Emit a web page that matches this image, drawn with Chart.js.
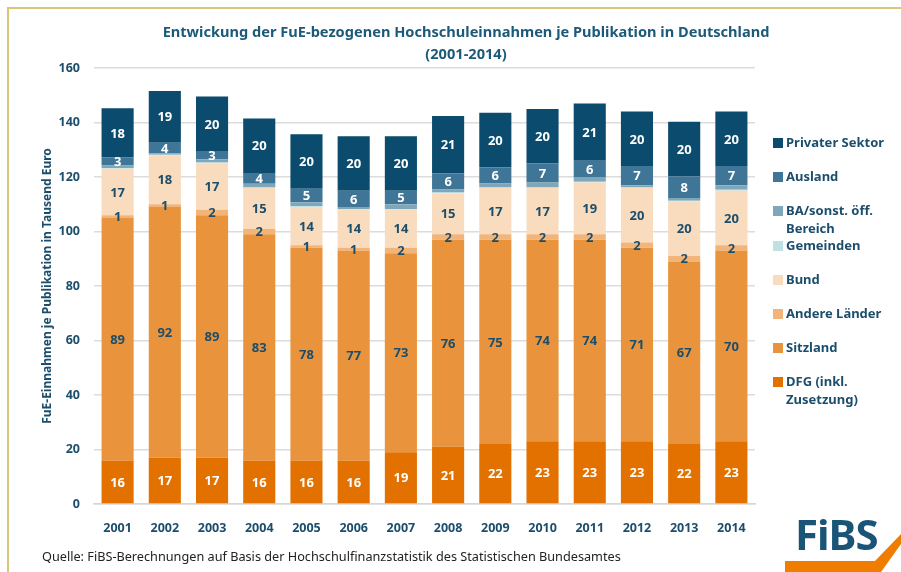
<!DOCTYPE html>
<html lang="de">
<head>
<meta charset="utf-8">
<script src="https://cdn.jsdelivr.net/npm/chart.js@4.4.1/dist/chart.umd.min.js"></script>
<style>
  html, body { margin: 0; padding: 0; background: #fff; }
  #wrap { position: relative; width: 901px; height: 572px; overflow: hidden; font-family: "Noto Sans", "Open Sans", sans-serif; }
  #frameTop { position: absolute; left: 7px; top: 7px; width: 900px; height: 2px; background: #d9c676; }
  #frameLeft { position: absolute; left: 7px; top: 7px; width: 2px; height: 570px; background: #d9c676; }
  #chart { position: absolute; left: 0; top: 0; }
  .title { position: absolute; left: 60px; width: 812px; text-align: center; color: #1c5a79; font-weight: bold; font-size: 14.6px; white-space: nowrap; }
  #legend { position: absolute; left: 773px; top: 133px; }
  .lg { position: absolute; left: 0; white-space: nowrap; color: #1c4e6c; font-weight: bold; font-size: 13px; line-height: 18px; }
  .lg span.box { position: absolute; left: 0; top: 5px; width: 10px; height: 10px; }
  .lg span.txt { position: absolute; left: 13px; top: 0; }
  #source { position: absolute; left: 42px; top: 547px; font-size: 12.7px; color: #222; white-space: nowrap; }
  #logo { position: absolute; left: 785px; top: 512px; width: 116px; height: 60px; }
  #logo .fibs { position: absolute; left: 10px; top: -7px; font-size: 42px; font-weight: bold; color: #1a5578; letter-spacing: -1px; }
</style>
</head>
<body>
<div id="wrap">
  <div id="frameTop"></div>
  <div id="frameLeft"></div>
  <canvas id="chart" width="901" height="572"></canvas>
  <div class="title" style="top:21px">Entwickung der FuE-bezogenen Hochschuleinnahmen je Publikation in Deutschland</div>
  <div class="title" style="top:43px">(2001-2014)</div>
  <div id="legend"></div>
  <div id="source">Quelle: FiBS-Berechnungen auf Basis der Hochschulfinanzstatistik des Statistischen Bundesamtes</div>
  <div id="logo">
    <div class="fibs">FiBS</div>
    <svg width="116" height="60" style="position:absolute;left:0;top:0">
      <polygon points="0,49 90,49 116,22 116,32 96,60 0,60" fill="#f07d00"/>
    </svg>
  </div>
</div>
<script>
// Jahre
const years = ['2001', '2002', '2003', '2004', '2005', '2006', '2007', '2008', '2009', '2010', '2011', '2012', '2013', '2014'];

// Einnahmen je Publikation (Tsd. Euro), von unten nach oben gestapelt
const dfg = [16, 17, 17, 16, 16, 16, 19, 21, 22, 23, 23, 23, 22, 23];
const sitzland = [89, 92, 89, 83, 78, 77, 73, 76, 75, 74, 74, 71, 67, 70];
const andereLaender = [1, 1, 2, 2, 1, 1, 2, 2, 2, 2, 2, 2, 2, 2];
const bund = [17, 18, 17, 15, 14, 14, 14, 15, 17, 17, 19, 20, 20, 20];
const gemeinden = [0.3, 0.2, 0.3, 0.3, 0.3, 0.3, 0.3, 0.3, 0.3, 0.3, 0.3, 0.3, 0.3, 0.3];
const baSonst = [0.9, 0.4, 1.2, 1.2, 1.4, 0.7, 1.7, 1.1, 1.3, 1.7, 1.7, 0.7, 1.0, 1.7];
const ausland = [3, 4, 3, 4, 5, 6, 5, 6, 6, 7, 6, 7, 8, 7];
const privat = [18, 19, 20, 20, 20, 20, 20, 21, 20, 20, 21, 20, 20, 20];

const yTicks = [0, 20, 40, 60, 80, 100, 120, 140, 160];

// Reihen: Name, Daten, Farbe, Beschriftung (null = keine)
const series = [
    { label: ['DFG (inkl.', 'Zusetzung)'], data: dfg, color: '#e27100', text: '#ffffff' },
    { label: ['Sitzland'], data: sitzland, color: '#e9943c', text: '#1c4e6c' },
    { label: ['Andere Länder'], data: andereLaender, color: '#f3b47a', text: '#1c4e6c' },
    { label: ['Bund'], data: bund, color: '#f8dcbd', text: '#1c4e6c' },
    { label: ['Gemeinden'], data: gemeinden, color: '#bfe1e1', text: null },
    { label: ['BA/sonst. öff.', 'Bereich'], data: baSonst, color: '#7fa7ba', text: null },
    { label: ['Ausland'], data: ausland, color: '#3f7596', text: '#ffffff' },
    { label: ['Privater Sektor'], data: privat, color: '#0b4b6d', text: '#ffffff' }
];

// Werte in die Balken schreiben
const valueLabels = {
    id: 'valueLabels',
    afterDatasetsDraw(chart) {
        const ctx = chart.ctx;
        ctx.save();
        ctx.font = 'bold 13px "Noto Sans", sans-serif';
        ctx.textAlign = 'center';
        ctx.textBaseline = 'middle';
        series.forEach((s, i) => {
            if (!s.text) return;
            const meta = chart.getDatasetMeta(i);
            meta.data.forEach((bar, j) => {
                const y = (bar.y + bar.base) / 2;
                ctx.fillStyle = s.text;
                ctx.fillText(Math.round(s.data[j]), bar.x, y + 1);
            });
        });
        ctx.restore();
    }
};

new Chart(document.getElementById('chart'), {
    type: 'bar',
    data: {
        labels: years,
        datasets: series.map(s => ({
            label: s.label.join(' '),
            data: s.data,
            backgroundColor: s.color,
            borderWidth: 0,
            barPercentage: 0.68,
            categoryPercentage: 1.0
        }))
    },
    options: {
        responsive: false,
        animation: false,
        layout: { padding: { left: 40, right: 146, top: 68, bottom: 0 } },
        plugins: {
            legend: { display: false },
            tooltip: { enabled: false },
            title: { display: false }
        },
        scales: {
            x: {
                stacked: true,
                grid: { display: false },
                border: { display: true, color: '#d6d6d6', width: 1.5 },
                ticks: {
                    color: '#1c4e6c',
                    font: { family: '"Noto Sans", sans-serif', size: 12.5, weight: 'bold' },
                    padding: 9
                },
                afterFit(scale) { scale.height = 68; }
            },
            y: {
                stacked: true,
                min: 0,
                max: 160,
                afterBuildTicks(scale) { scale.ticks = yTicks.map(v => ({ value: v })); },
                grid: { color: '#dcdcdc', lineWidth: 1.5, drawTicks: false },
                border: { display: false },
                ticks: {
                    color: '#1c4e6c',
                    font: { family: '"Noto Sans", sans-serif', size: 12.5, weight: 'bold' },
                    padding: 14
                },
                title: {
                    display: true,
                    text: 'FuE-Einnahmen je Publikation in Tausend Euro',
                    color: '#1c4e6c',
                    font: { family: '"Noto Sans", sans-serif', size: 12, weight: 'bold' },
                    padding: 0
                },
                afterFit(scale) { scale.width = 54; }
            }
        }
    },
    plugins: [valueLabels]
});

// Legende rechts (oben = Privater Sektor)
const legendEl = document.getElementById('legend');
const legendTops = [0, 34, 68, 103, 137, 171, 205, 239];
series.slice().reverse().forEach((s, i) => {
    const item = document.createElement('div');
    item.className = 'lg';
    item.style.top = legendTops[i] + 'px';
    item.innerHTML = '<span class="box" style="background:' + s.color + '"></span>' +
        '<span class="txt">' + s.label.join('<br>') + '</span>';
    legendEl.appendChild(item);
});
</script>
</body>
</html>
